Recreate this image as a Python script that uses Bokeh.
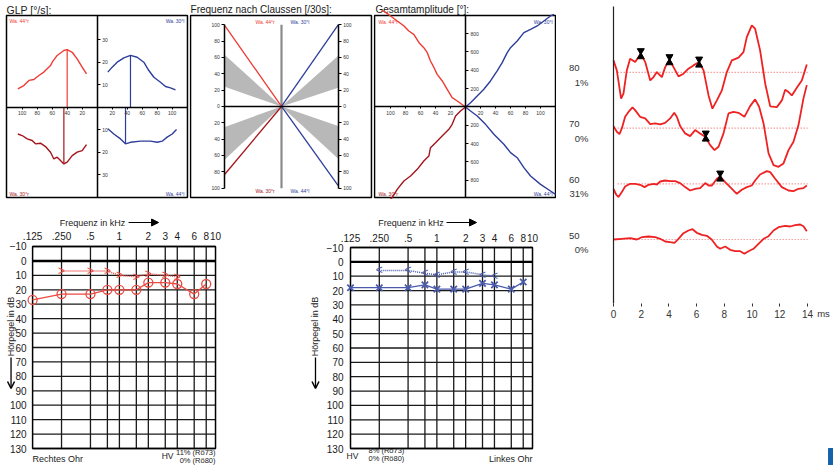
import math
from bokeh.plotting import figure
from bokeh.layouts import row, column
from bokeh.models import (Range1d, LinearAxis, LogAxis, FixedTicker, Arrow,
                          NormalHead, OpenHead, CustomJSTickFormatter)
from bokeh.embed import file_html
from bokeh.resources import INLINE
from bokeh.core.properties import value

FONT = "Liberation Sans"
RED = "#ee3b33"
DRED = "#a3151c"
BLUE = "#2e3e9a"
A_RED = "#ea4b42"
A_BLUE = "#4a5bab"
ABR_RED = "#ee2222"
TXT = "#333333"
INK = "#1a1a1a"

# ---------------- data ----------------
# GLP [deg/s]  (absolute values; the quadrant is given by the series)
glp_r44_x = [105.8, 97.8, 91, 84.4, 77.8, 71.1, 62.2, 60, 53.3, 44.4, 40, 33.3, 26.7, 20, 14.2]
glp_r44_y = [8.1, 9.6, 11.9, 12.3, 14.1, 15.6, 18.5, 20, 23, 25.2, 25.6, 24.4, 21.5, 17.8, 14.8]
glp_r30_x = [105.8, 100, 93.3, 86.7, 82.2, 75.6, 68.9, 62.2, 57.8, 53.3, 48.9, 44.4, 40, 33.3, 26.7, 20, 14.2]
glp_r30_y = [11.9, 12.6, 14.1, 14.8, 16.3, 16, 17.5, 20, 23, 22.2, 23.7, 25.2, 24.4, 21.5, 20, 19.3, 16.6]
glp_l30_x = [14.2, 20, 26.7, 35.6, 44.4, 53.3, 62.2, 68.9, 75.6, 84.4, 91.1, 97.8, 104.4]
glp_l30_y = [15.6, 17.8, 20, 21.9, 23, 22.2, 20, 16.3, 13.3, 11.1, 9.2, 8.6, 7.7]
glp_l44_x = [14.2, 22.2, 31.1, 37.8, 44.4, 57.8, 71.1, 80, 86.7, 93.3, 100, 105.8]
glp_l44_y = [9.6, 11.9, 14.1, 16.3, 15.6, 15.1, 15.1, 15.6, 15.1, 13.3, 11.9, 9.9]
glp_xticks = [20, 40, 60, 80, 100]
glp_yticks = [10, 20, 30]

# Frequenz nach Claussen [/30s]
claus_r44 = 99
claus_r30 = 83
claus_l30 = 100
claus_l44 = 97
claus_norm_r44 = (24, 63)
claus_norm_r30 = (25, 65)
claus_norm_l30 = (23, 62)
claus_norm_l44 = (24, 64)
claus_ticks = [-100, -80, -60, -40, -20, 0, 20, 40, 60, 80, 100]

# Gesamtamplitude [deg]
ges_r44_x = [0, 11, 17.8, 24.4, 31, 37.8, 42, 46.7, 51, 55.6, 62, 69, 75.6, 82, 91, 100, 106, 111]
ges_r44_y = [0, 65, 102, 193, 284, 356, 429, 502, 593, 647, 702, 793, 829, 884, 938, 993, 1030, 1055]
ges_l30_x = [0, 6.7, 15.6, 24.4, 33.3, 42.2, 48.9, 55.6, 60, 68.9, 77.8, 86.7, 95.6, 104.4, 113.3, 118]
ges_l30_y = [0, 47, 120, 193, 284, 393, 484, 593, 647, 720, 811, 847, 884, 938, 993, 1010]
ges_r30_x = [0, 6.7, 13.3, 17.8, 22.2, 28.9, 40, 46.7, 48.9, 55.6, 64.4, 73.3, 82.2, 91.1, 97.8, 100]
ges_r30_y = [0, 44, 98, 189, 244, 298, 389, 444, 535, 589, 680, 753, 807, 898, 989, 1000]
ges_l44_x = [0, 6.7, 15.6, 26.7, 37.8, 51.1, 60, 68.9, 77.8, 86.7, 100, 113.3, 120]
ges_l44_y = [0, 44, 98, 189, 298, 407, 498, 553, 662, 753, 844, 916, 953]
ges_xticks = [20, 40, 60, 80, 100]
ges_yticks = [200, 400, 600, 800]

# Audiograms
aud_freqs = [0.125, 0.25, 0.5, 0.75, 1, 1.5, 2, 3, 4, 6, 8]
aud_bone_freqs = [0.25, 0.5, 0.75, 1, 1.5, 2, 3, 4]
re_air = [27, 23, 23, 20, 20, 20, 15, 15, 16, 23, 16]
re_bone = [7, 7, 7, 10, 11, 9, 10, 11]
le_air = [18, 18, 18, 16, 19, 19, 19, 15, 16, 19, 14]
le_bone = [6, 6, 8, 9, 7, 7, 9, 10]
aud_tick_freqs = [0.125, 0.25, 0.5, 1, 2, 3, 4, 6, 8, 10]
aud_grid_freqs = [0.25, 0.5, 0.75, 1, 1.5, 2, 3, 4, 6, 8]
aud_db_ticks = list(range(-10, 131, 10))

# ABR traces (ms, amplitude)
abr_levels = [80, 70, 60, 50]
abr_pct = ["1%", "0%", "31%", "0%"]
t80 = [0, .24, .55, .72, .96, 1.2, 1.56, 1.97, 2.29, 2.65, 2.89, 3.13, 3.49, 3.73, 4.04, 4.33, 4.69, 5.05, 5.41, 5.77,
       6.18, 6.5, 6.86, 7.14, 7.46, 7.82, 8.18, 8.54, 9.02, 9.38, 9.62, 9.98, 10.22, 10.58, 10.95, 11.31, 11.79, 12.15,
       12.39, 12.63, 12.87, 13.23, 13.59, 13.95]
a80 = [12, 2, -26.3, -21.3, 2, 13.7, 10.3, 18.7, 10.3, -8, -4.7, 0.3, -4.7, 5.3, 12.7, 5.3, -4, -1.3, 3.7, 7,
       10.3, 2, -23, -36.3, -28, -18, 0.3, 12, 14.7, 20.3, 35.3, 47, 43.7, 22, -11.3, -34, -34.7, -28,
       -17.3, -19.7, -23, -15.3, -8, 8]
t70 = [0, .24, .43, .6, .84, 1.13, 1.37, 1.56, 1.92, 2.29, 2.65, 3.01, 3.37, 3.73, 4.09, 4.38, 4.57, 4.81, 5.17, 5.53,
       5.89, 6.25, 6.62, 6.98, 7.29, 7.58, 7.94, 8.3, 8.66, 9.02, 9.45, 9.86, 10.22, 10.51, 10.83, 11.19, 11.55, 11.91,
       12.27, 12.63, 12.99, 13.35, 13.71, 13.95]
a70 = [2, -3.7, -6, -0.3, 11.3, 17, 20.7, 18, 11.3, 9.7, 4, 4.7, 3.7, 5.3, 9.7, 15.3, 11.3, 2, -5.3, -8,
       -2, -5.3, -8.7, -17, -22, -18.7, -5.3, 14.7, 16.3, 15.3, 11.3, 22, 28.7, 21.3, 4.7, -25.3, -37, -38.7,
       -35.3, -22, -13.7, 3, 29.7, 43]
t60 = [0, .19, .36, .6, .84, 1.2, 1.56, 1.92, 2.24, 2.53, 2.89, 3.13, 3.37, 3.73, 4.09, 4.45, 4.81, 5.17, 5.53, 5.89,
       6.25, 6.62, 6.86, 7.1, 7.46, 7.7, 8.06, 8.42, 8.9, 9.26, 9.62, 9.98, 10.22, 10.58, 11.07, 11.31, 11.67, 12.15,
       12.63, 12.99, 13.35, 13.71, 13.95]
a60 = [-5, -10.7, -13.3, -8.3, -2.7, 0, 0, -1, -3.3, -1, 0, -0.7, 2.3, 3.3, 2.7, 2.7, 0.7, -3.3, -6.7, -5,
       -4.3, 0.7, -1.7, -1.7, 5, 7.3, 1.7, -3.3, -10, -6, -3.3, -1.7, 3.3, 9.3, 12.7, 11.7, 5, -3.3,
       -6.7, -7.3, -5, -4.3, -1.7]
t50 = [0, .6, 1.2, 1.68, 2.04, 2.53, 3.01, 3.37, 3.73, 4.09, 4.4, 4.69, 5.05, 5.41, 5.7, 6.01, 6.38, 6.74, 7.1, 7.46,
       7.7, 8.06, 8.42, 8.78, 9.14, 9.45, 9.74, 10.1, 10.46, 10.83, 11.19, 11.55, 11.91, 12.39, 12.75, 13.11, 13.47,
       13.71, 13.95]
a50 = [0, 0.7, 1.3, 0, 2.3, 3, 2.3, 0.7, -2, -2.7, -3.3, 0.7, 6.3, 9, 10.3, 6.7, 4.7, 3.7, -0.3, -7,
       -9.3, -7, -10.3, -11.7, -11.7, -14.3, -11.7, -9.3, -4.3, 0.7, 3.3, 9, 12.3, 13.7, 13, 14.3, 15,
       13.3, 8.3]
abr_marks = {80: ([1.97, 4.04, 6.18], [18.7, 12.7, 10.3]), 70: ([6.66], [-8]), 60: ([7.7], [7.7]), 50: ([], [])}
abr_xticks = [0, 2, 4, 6, 8, 10, 12, 14]

ABS_FMT = "return Math.abs(tick).toString();"


def make_fig(w, h, xr, yr, x_log=False):
    p = figure(width=w, height=h, x_range=Range1d(*xr), y_range=Range1d(*yr),
               x_axis_type="log" if x_log else "linear",
               x_axis_location=None, y_axis_location=None,
               toolbar_location=None, output_backend="svg", min_border=0)
    p.xgrid.visible = False
    p.ygrid.visible = False
    p.outline_line_color = None
    p.background_fill_color = "white"
    p.border_fill_color = "white"
    return p


def box(p, bx, by, width=1.5):
    p.quad(left=[bx[0]], right=[bx[1]], bottom=[by[0]], top=[by[1]],
           fill_color=None, line_color="black", line_width=width)


def cross_axis(p, side, loc, ticks, bounds, size="5px", tick_out=3, width=1.5):
    ax = LinearAxis(fixed_location=loc, ticker=FixedTicker(ticks=ticks), bounds=bounds,
                    formatter=CustomJSTickFormatter(code=ABS_FMT))
    ax.axis_line_color = "black"
    ax.axis_line_width = width
    ax.major_tick_line_color = "black"
    ax.major_tick_line_width = 1
    ax.major_tick_out = tick_out
    ax.major_tick_in = 0
    ax.minor_tick_line_color = None
    ax.major_label_text_font = FONT
    ax.major_label_text_font_size = size
    ax.major_label_text_color = TXT
    ax.major_label_standoff = 2
    p.add_layout(ax, side)
    return ax


def txt(p, x, y, t, size, color=INK, align="left", angle=0.0):
    p.text(x=[x], y=[y], text=[t], text_font=value(FONT), text_font_size=value(size),
           text_color=color, text_align=align, text_baseline="middle", angle=angle)


def quad_labels(p, xs, ys, aligns, colors):
    for x, y, t, a, c in zip(xs, ys, ["Wa. 44°r", "Wa. 30°l", "Wa. 30°r", "Wa. 44°l"], aligns, colors):
        txt(p, x, y, t, "5px", c, a)


def neg(v):
    return [-a for a in v]


TITLE_SIZE = "10px"

# ---------------- GLP ----------------
g1 = make_fig(189, 200, (-128.9, 123.1), (-41.47, 47.42))
g1_bx, g1_by = (-120.9, 120.4), (-40.13, 40.76)
box(g1, g1_bx, g1_by)
txt(g1, g1_bx[0], 43.2, "GLP [°/s]:", "10.5px")
g1.line(neg(glp_r44_x), glp_r44_y, color=RED, line_width=1.4)
g1.line(neg(glp_r30_x), neg(glp_r30_y), color=DRED, line_width=1.4)
g1.line(glp_l30_x, glp_l30_y, color=BLUE, line_width=1.4)
g1.line(glp_l44_x, neg(glp_l44_y), color=BLUE, line_width=1.4)
for xs, ys, sx, sy, c in [(glp_r44_x, glp_r44_y, -1, 1, RED), (glp_r30_x, glp_r30_y, -1, -1, DRED),
                          (glp_l30_x, glp_l30_y, 1, 1, BLUE), (glp_l44_x, glp_l44_y, 1, -1, BLUE)]:
    i = ys.index(max(ys))
    g1.segment(x0=[sx * xs[i]], y0=[0], x1=[sx * xs[i]], y1=[sy * ys[i]], color=c, line_width=1.2)
cross_axis(g1, "below", 0, [-t for t in glp_xticks] + glp_xticks, g1_bx, tick_out=2)
cross_axis(g1, "right", 0, [-t for t in glp_yticks] + glp_yticks, g1_by, tick_out=3)
quad_labels(g1, [-116.9, 116.4, -116.9, 116.4], [38.1, 38.1, -38.4, -38.4],
            ["left", "right", "left", "right"], [RED, BLUE, DRED, BLUE])

# ---------------- Claussen ----------------
g2 = make_fig(184, 200, (-1.623, 1.623), (-115.1, 129.7))
g2_bx, g2_by = (-1.605, 1.587), (-111.4, 111.4)
box(g2, g2_bx, g2_by)
txt(g2, g2_bx[0], 118.7, "Frequenz nach Claussen [/30s]:", TITLE_SIZE)
g2.patches(xs=[[0, -1, -1], [0, -1, -1], [0, 1, 1], [0, 1, 1]],
           ys=[[0, claus_norm_r44[0], claus_norm_r44[1]], [0, -claus_norm_r30[0], -claus_norm_r30[1]],
               [0, claus_norm_l30[0], claus_norm_l30[1]], [0, -claus_norm_l44[0], -claus_norm_l44[1]]],
           color="#b8b8b8", line_color=None)
g2.segment(x0=[0], y0=[-100], x1=[0], y1=[100], color="#8a8a8a", line_width=2.2)
g2.line([-1, 0], [claus_r44, 0], color=RED, line_width=1.3)
g2.line([0, -1], [0, -claus_r30], color=DRED, line_width=1.3)
g2.line([0, 1], [0, claus_l30], color=BLUE, line_width=1.3)
g2.line([0, 1], [0, -claus_l44], color=BLUE, line_width=1.3)
cross_axis(g2, "left", -1, claus_ticks, (-100, 100))
cross_axis(g2, "right", 1, claus_ticks, (-100, 100))
hx = LinearAxis(fixed_location=0, ticker=FixedTicker(ticks=[]), bounds=(-1, 1))
hx.axis_line_width = 1.5
hx.major_label_text_font_size = "0px"
g2.add_layout(hx, "below")
quad_labels(g2, [-0.12, 0.16, -0.12, 0.16], [103, 103, -104, -104],
            ["right", "left", "right", "left"], [RED, BLUE, DRED, BLUE])

# ---------------- Gesamtamplitude ----------------
g3 = make_fig(183, 200, (-122.7, 121.3), (-1020, 1161.8))
g3_bx, g3_by = (-121.3, 120), (-987.2, 998.2)
box(g3, g3_bx, g3_by)
txt(g3, -120, 1063.6, "Gesamtamplitude [°]:", TITLE_SIZE)
g3.line(neg(ges_r44_x), ges_r44_y, color=RED, line_width=1.4)
g3.line(neg(ges_r30_x), neg(ges_r30_y), color=DRED, line_width=1.4)
g3.line(ges_l30_x, ges_l30_y, color=BLUE, line_width=1.4)
g3.line(ges_l44_x, neg(ges_l44_y), color=BLUE, line_width=1.4)
cross_axis(g3, "below", 0, [-t for t in ges_xticks] + ges_xticks, g3_bx, tick_out=2)
cross_axis(g3, "right", 0, [-t for t in ges_yticks] + ges_yticks, g3_by, tick_out=3)
quad_labels(g3, [-116, 116, -116, 116], [932, 932, -944, -944],
            ["left", "right", "left", "right"], [RED, BLUE, DRED, BLUE])

# ---------------- Audiograms ----------------
FREQ_FMT = ("const m = {'0.125': '.125', '0.25': '.250', '0.5': '.5'};"
            "const s = tick.toString(); return (s in m) ? m[s] : s;")


def audiogram(w, xr, yr, air, bone, color, air_marker, bone_char, lab):
    p = make_fig(w, 265, xr, yr, x_log=True)
    f0, f1 = aud_tick_freqs[0], aud_tick_freqs[-1]
    d0, d1 = aud_db_ticks[0], aud_db_ticks[-1]
    ng, nd = len(aud_grid_freqs), len(aud_db_ticks)
    p.segment(x0=aud_grid_freqs, y0=[d0] * ng, x1=aud_grid_freqs, y1=[d1] * ng,
              color=INK, line_width=1.3)
    p.segment(x0=[f0] * nd, y0=aud_db_ticks, x1=[f1] * nd, y1=aud_db_ticks, color=INK, line_width=1.3)
    p.segment(x0=[f0], y0=[0], x1=[f1], y1=[0], color="black", line_width=2.4)
    box(p, (f0, f1), (d1, d0))

    xa = LogAxis(fixed_location=d0, ticker=FixedTicker(ticks=aud_tick_freqs),
                 formatter=CustomJSTickFormatter(code=FREQ_FMT))
    ya = LinearAxis(fixed_location=f0, ticker=FixedTicker(ticks=aud_db_ticks))
    for ax in (xa, ya):
        ax.axis_line_color = None
        ax.major_tick_line_color = None
        ax.major_tick_out = 0
        ax.major_tick_in = 0
        ax.minor_tick_line_color = None
        ax.major_label_text_font = FONT
        ax.major_label_text_font_size = "10px"
        ax.major_label_text_color = INK
    xa.major_label_standoff = 6
    ya.major_label_standoff = lab["ystand"]
    p.add_layout(xa, "above")
    p.add_layout(ya, "left")

    p.line(aud_bone_freqs, bone, color=color, line_dash="1 1", line_width=1.5)
    p.text(x=aud_bone_freqs, y=bone, text=[bone_char] * len(bone), text_font=value(FONT),
           text_font_size=value("12px"), text_color=color, text_align="center", text_baseline="middle")
    p.line(aud_freqs, air, color=color, line_width=1.3)
    if air_marker == "circle":
        p.scatter(aud_freqs, air, marker="circle", size=9, fill_color=None, line_color=color, line_width=1.3)
    else:
        p.scatter(aud_freqs, air, marker="x", size=9, line_color=color, line_width=1.8)

    fx, fy, ax0, ax1, hxp, hy, ha0, ha1 = lab["freq"]
    txt(p, fx, fy, "Frequenz in kHz", "9px", INK, "center")
    p.add_layout(Arrow(x_start=ax0, y_start=fy, x_end=ax1, y_end=fy, line_width=1.2,
                       end=NormalHead(size=7, fill_color="black", line_color="black")))
    txt(p, hxp, hy, "Hörpegel in dB", "9px", INK, "center", angle=math.pi / 2)
    p.add_layout(Arrow(x_start=hxp, y_start=ha0, x_end=hxp, y_end=ha1, line_width=1.3,
                       end=OpenHead(size=7, line_width=1.5)))
    for (tx, ty, t, al, fs) in lab["texts"]:
        txt(p, tx, ty, t, fs, INK, al)
    return p


a1 = audiogram(300, (0.05795, 76.55), (141.78, -41.88), re_air, re_bone, A_RED, "circle", ">",
               {"ystand": 6,
                "freq": (0.5255, -26.63, 1.245, 2.555, 0.0746, 45.44, 66.93, 88.41),
                "texts": [(0.125, 137.3, "Rechtes Ohr", "left", "9px"),
                          (3.169, 134.9, "HV", "center", "8.5px"),
                          (10.0, 132.8, "11% (Rö73)", "right", "7.5px"),
                          (10.0, 138.0, "0% (Rö80)", "right", "7.5px")]})
a2 = audiogram(256, (0.0375, 17.82), (141.84, -42.74), le_air, le_bone, A_BLUE, "x", "<",
               {"ystand": 7,
                "freq": (0.5364, -27.41, 1.2606, 2.597, 0.0538, 45.03, 66.62, 88.21),
                "texts": [(0.1312, 134.9, "HV", "center", "8.5px"),
                          (0.1928, 131.7, "8% (Rö73)", "left", "7.5px"),
                          (0.1928, 137.0, "0% (Rö80)", "left", "7.5px"),
                          (10.0, 137.3, "Linkes Ohr", "right", "9px")]})

# ---------------- ABR ----------------
abr = make_fig(277, 465, (-4.113, 15.877), (-162, 303))
xa = LinearAxis(fixed_location=0, ticker=FixedTicker(ticks=abr_xticks))
xa.axis_line_color = None
xa.major_tick_out = 3
xa.major_tick_in = 0
xa.major_tick_line_color = "#333333"
xa.minor_tick_line_color = None
xa.major_label_text_font = FONT
xa.major_label_text_font_size = "10px"
xa.major_label_text_color = TXT
xa.major_label_standoff = 3
abr.add_layout(xa, "below")
ya = LinearAxis(fixed_location=0, ticker=FixedTicker(ticks=[]), bounds=(0, 297))
ya.axis_line_color = "#222222"
ya.axis_line_width = 1.2
ya.major_label_text_font_size = "0px"
abr.add_layout(ya, "left")

traces = {80: (t80, a80), 70: (t70, a70), 60: (t60, a60), 50: (t50, a50)}
for lvl, pct in zip(abr_levels, abr_pct):
    base = 64 + (lvl - 50) / 10 * 55.7
    t, a = traces[lvl]
    abr.line([0.3, 14], [base, base], color="#f07070", line_dash="1 2", line_width=1.2)
    abr.line(t, [base + v for v in a], color=ABR_RED, line_width=1.8)
    mt, ma = abr_marks[lvl]
    if mt:
        abr.scatter(mt, [base + v + 3.0 for v in ma], marker="inverted_triangle", size=7, color="black")
        abr.scatter(mt, [base + v - 3.0 for v in ma], marker="triangle", size=7, color="black")
    txt(abr, -2.45, base + 4, str(lvl), "9.5px", TXT, "right")
    txt(abr, -1.8, base - 10, pct, "9.5px", TXT, "right")
txt(abr, 14.7, -10, "ms", "9.5px", TXT, "left")
abr.quad(left=[15.52], right=[15.9], bottom=[-162], top=[-145], color="#1462aa")

root = row(column(row(g1, g2, g3), row(a1, a2)), abr)

open("out.html", "w").write(file_html(root, INLINE))
